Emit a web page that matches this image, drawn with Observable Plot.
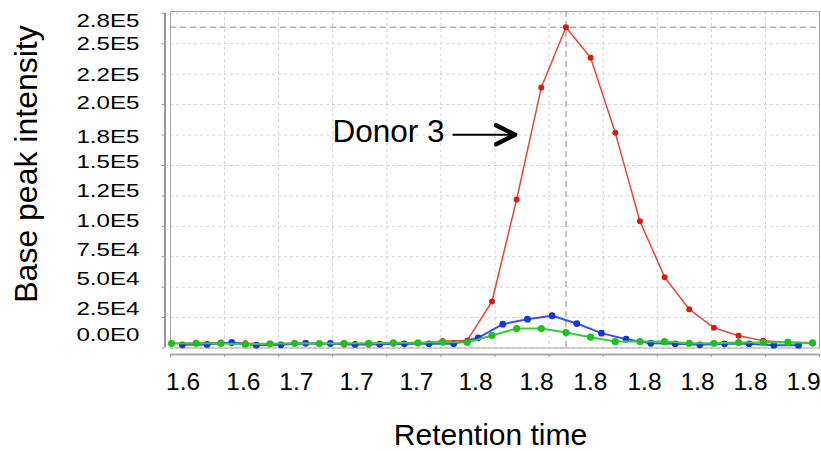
<!DOCTYPE html>
<html>
<head>
<meta charset="utf-8">
<script src="https://cdn.jsdelivr.net/npm/d3@7"></script>
<script src="https://cdn.jsdelivr.net/npm/@observablehq/plot@0.6"></script>
<style>
  html, body { margin: 0; padding: 0; background: #fff; }
  #chart svg { display: block; }
</style>
</head>
<body>
<div id="chart"></div>
<script>
// Scan times (min) shared by the red and green traces
const scanTimes = [1.6005, 1.6119, 1.6233, 1.6346, 1.6460, 1.6574, 1.6688, 1.6802, 1.6916,
  1.7030, 1.7144, 1.7258, 1.7372, 1.7486, 1.7600, 1.7714, 1.7828, 1.7942, 1.8056, 1.8170,
  1.8284, 1.8398, 1.8512, 1.8626, 1.8740, 1.8854, 1.8968];
// Scan times (min) of the blue trace
const blueScanTimes = [1.6055, 1.6169, 1.6283, 1.6397, 1.6511, 1.6625, 1.6739, 1.6853, 1.6967,
  1.7081, 1.7195, 1.7309, 1.7422, 1.7536, 1.7650, 1.7764, 1.7878, 1.7992, 1.8106, 1.8220,
  1.8333, 1.8447, 1.8561, 1.8675, 1.8789, 1.8903];

// Base peak intensities
const donor3 = [3700, 3900, 4500, 3900, 3450, 3700, 3450, 2900, 2900, 3450, 3700, 5750, 6200,
  38200, 122000, 214000, 263600, 238500, 176800, 104200, 58200, 31900, 16600, 10000, 5900, 4500, 3700];
const blueTrace = [2600, 2900, 4500, 2300, 2600, 3900, 3700, 2900, 3100, 3450, 3450, 3450,
  8400, 19600, 23700, 26500, 20100, 12200, 7200, 3900, 3450, 2600, 3450, 3450, 2300, 2300];
const greenTrace = [3700, 3900, 3700, 3100, 3450, 3900, 3700, 3900, 3900, 4300, 4300, 4900, 4500,
  10300, 16000, 16000, 12700, 8900, 5300, 5300, 5300, 3900, 3900, 4500, 4500, 4800, 4300];

// Axis ticks and their labels
const xTicks = [1.6, 1.625, 1.65, 1.675, 1.7, 1.725, 1.75, 1.775, 1.8, 1.825, 1.85, 1.875, 1.9];
const xLabelTimes = [1.6058, 1.6337, 1.6582, 1.6860, 1.7137, 1.7410, 1.7692, 1.7941, 1.8191, 1.8436, 1.8681, 1.8926];
const xTickLabels = ["1.6", "1.6", "1.7", "1.7", "1.7", "1.8", "1.8", "1.8", "1.8", "1.8", "1.8", "1.9"];
const yTicks = [0, 25000, 50000, 75000, 100000, 125000, 150000, 175000, 200000, 225000, 250000, 275000];
const yLabelValues = [10400, 31900, 56300, 80100, 103700, 128300, 152700, 172800, 200700, 224300, 249600, 268100];
const yTickLabels = ["0.0E0", "2.5E4", "5.0E4", "7.5E4", "1.0E5", "1.2E5", "1.5E5", "1.8E5", "2.0E5", "2.2E5", "2.5E5", "2.8E5"];

// Callout pointing at the donor 3 peak
const callout = [{label: "Donor 3", t0: 1.7304, t1: 1.7593, value: 175200}];

const xTitle = "Retention time";
const yTitle = "Base peak intensity";

const rows = (times, values) => times.map((t, i) => ({t, v: values[i]}));
const red = rows(scanTimes, donor3);
const blue = rows(blueScanTimes, blueTrace);
const green = rows(scanTimes, greenTrace);
const peak = d3.greatest(red, d => d.v);

const xLabelMap = new Map(xLabelTimes.map((t, i) => [t, xTickLabels[i]]));
const yLabelMap = new Map(yLabelValues.map((v, i) => [v, yTickLabels[i]]));

// Open, bold arrowhead drawn as a symbol
const chevron = {
  draw(ctx, size) {
    const r = Math.sqrt(size / Math.PI);
    ctx.moveTo(-1.9 * r, -0.95 * r);
    ctx.lineTo(0, 0);
    ctx.lineTo(-1.9 * r, 0.95 * r);
  }
};

const font = "'Liberation Sans', Arial, Helvetica, sans-serif";
const gridStyle = {stroke: "#d2d2d2", strokeOpacity: 1, strokeDasharray: "3,3"};

const series = [
  {data: red, line: "#e5483c", dot: "#d21e10", width: 1.5, r: 3},
  {data: blue, line: "#3d52e4", dot: "#1437d6", width: 2, r: 3.4},
  {data: green, line: "#3bcc3b", dot: "#1fc01f", width: 2, r: 3.6}
];

const plot = Plot.plot({
  width: 821,
  height: 451,
  marginLeft: 170,
  marginRight: 2,
  marginTop: 11,
  marginBottom: 103.5,
  style: {fontFamily: font, background: "#fff", color: "#000"},
  x: {domain: [xTicks[0], xTicks[xTicks.length - 1]]},
  y: {domain: [0, 276500]},
  marks: [
    Plot.gridX(xTicks, gridStyle),
    Plot.gridY(yTicks, gridStyle),
    Plot.frame({stroke: "#a6a6a6"}),
    // axis lines, set slightly apart from the frame
    Plot.ruleY([0], {dy: 6.5, stroke: "#aaaaaa", strokeWidth: 2}),
    Plot.ruleX([xTicks[0]], {y1: yTicks[0], y2: yTicks[yTicks.length - 1], dx: -5.5, stroke: "#9a9a9a", strokeWidth: 2}),
    Plot.axisX(xTicks, {tickSize: 3, dy: 6.5, stroke: "#9a9a9a", tickFormat: () => "", label: null}),
    Plot.axisX(xLabelTimes, {tickSize: 0, tickPadding: 24.5, fontSize: 24.5, tickFormat: d => xLabelMap.get(d), label: null}),
    Plot.axisY(yTicks, {tickSize: 3, dx: -5.5, stroke: "#9a9a9a", tickFormat: () => "", label: null}),
    Plot.axisY(yLabelValues, {tickSize: 0, tickPadding: 31, fontSize: 17.5, tickFormat: d => yLabelMap.get(d), label: null}),
    // crosshair through the apex of the main peak
    Plot.ruleY([peak.v], {stroke: "#8a8a8a", strokeDasharray: "6,4"}),
    Plot.ruleX([peak.t], {stroke: "#8a8a8a", strokeDasharray: "6,4"}),
    ...series.flatMap(s => [
      Plot.line(s.data, {x: "t", y: "v", stroke: s.line, strokeWidth: s.width}),
      Plot.dot(s.data, {x: "t", y: "v", fill: s.dot, r: s.r})
    ]),
    // callout
    Plot.text(callout, {x: "t0", y: "value", text: "label", textAnchor: "end", lineAnchor: "middle", dx: -8, dy: -2.4, fontSize: 31.5, fill: "#000"}),
    Plot.link(callout, {x1: "t0", x2: "t1", y1: "value", y2: "value", stroke: "#000", strokeWidth: 2}),
    Plot.dot(callout, {x: "t1", y: "value", symbol: chevron, r: 10, fill: "none", stroke: "#000", strokeWidth: 4.5, strokeLinejoin: "round", strokeLinecap: "round"}),
    // axis titles
    Plot.text([xTitle], {text: d => d, frameAnchor: "bottom", textAnchor: "middle", lineAnchor: "middle", dx: -4.5, dy: 86.9, fontSize: 30, fill: "#000"}),
    Plot.text([yTitle], {text: d => d, frameAnchor: "left", textAnchor: "middle", lineAnchor: "middle", rotate: -90, dx: -144.2, dy: -15.75, fontSize: 32, fill: "#000"})
  ]
});

// y tick labels are set in a wide face: stretch them horizontally about their right edge
d3.select(plot).selectAll('[aria-label="y-axis tick label"] text').each(function () {
  const ax = +this.getAttribute("x") || 0;
  const t = this.getAttribute("transform") || "";
  this.setAttribute("transform", `${t} translate(${ax},0) scale(1.38,1) translate(${-ax},0)`);
});

document.getElementById("chart").append(plot);
</script>
</body>
</html>
